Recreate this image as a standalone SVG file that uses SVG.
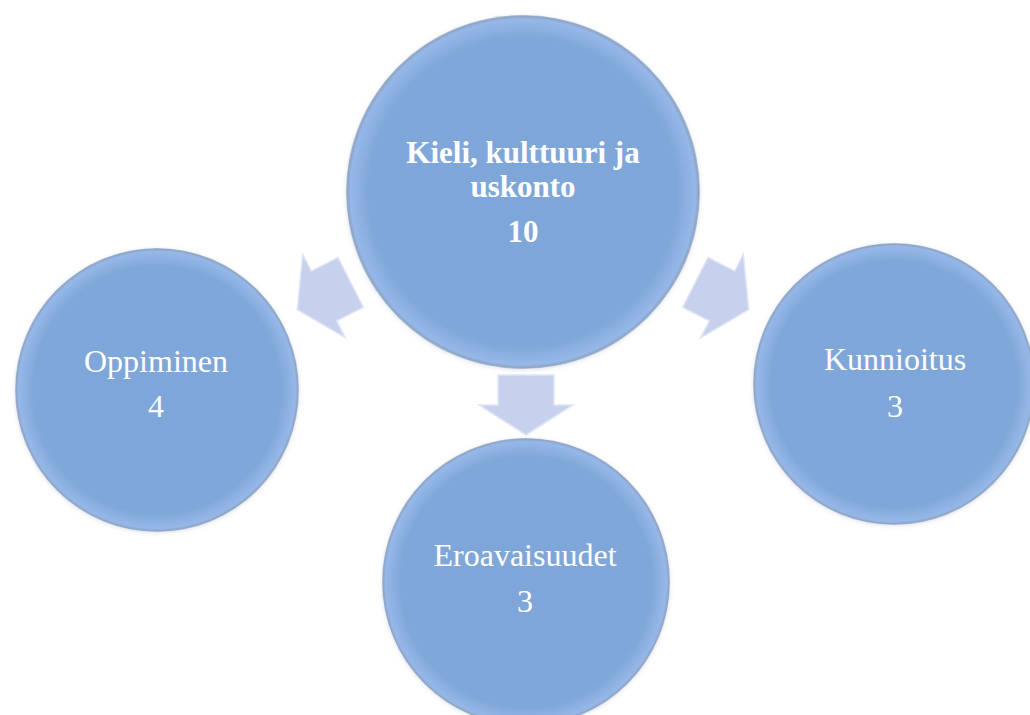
<svg xmlns="http://www.w3.org/2000/svg" width="1030" height="715" viewBox="0 0 1030 715">
  <defs>
    <radialGradient id="cg" cx="50%" cy="50%" r="50%">
      <stop offset="0%" stop-color="#7FA6D8"/>
      <stop offset="87%" stop-color="#80A7D9"/>
      <stop offset="94%" stop-color="#8EB2E4"/>
      <stop offset="97.5%" stop-color="#96B8E8"/>
      <stop offset="99.2%" stop-color="#8EA5C6"/>
      <stop offset="100%" stop-color="#B7C4D8"/>
    </radialGradient>
    <filter id="sh" x="-10%" y="-10%" width="120%" height="120%">
      <feGaussianBlur in="SourceAlpha" stdDeviation="2"/>
      <feOffset dx="0" dy="1" result="b"/>
      <feFlood flood-color="#7a8ca8" flood-opacity="0.25"/>
      <feComposite in2="b" operator="in"/>
      <feMerge><feMergeNode/><feMergeNode in="SourceGraphic"/></feMerge>
    </filter>
    <polygon id="arr" points="-30,-28 0,-28 0,-47 30,0 0,47 0,28 -30,28"/>
  </defs>
  <style>
    .node circle { fill: url(#cg); filter: url(#sh); }
    .t { font-family: "Liberation Serif", "Times New Roman", serif; font-size: 32px; fill: #ffffff; text-anchor: middle; }
    .b { font-weight: bold; font-size: 31px; }
    .arrow { fill: #C7D1ED; stroke: #E0E6F6; stroke-width: 1.5; stroke-linejoin: miter; }
  </style>
  <rect width="1030" height="715" fill="#ffffff"/>
  <g id="connectors">
    <use href="#arr" class="arrow" transform="translate(324,296) rotate(153)"/>
    <use href="#arr" class="arrow" transform="translate(722,296) rotate(27)"/>
    <use href="#arr" class="arrow" transform="translate(526,405) rotate(90)"/>
  </g>
  <g id="node-center" class="node">
    <circle cx="523" cy="192" r="177"/>
    <text class="t b" x="523" y="163">Kieli, kulttuuri ja</text>
    <text class="t b" x="523" y="197">uskonto</text>
    <text class="t b" x="523" y="242">10</text>
  </g>
  <g id="node-oppiminen" class="node">
    <circle cx="157" cy="390" r="142"/>
    <text class="t" x="156" y="372">Oppiminen</text>
    <text class="t" x="156" y="417">4</text>
  </g>
  <g id="node-kunnioitus" class="node">
    <circle cx="894" cy="384" r="141"/>
    <text class="t" x="895" y="370">Kunnioitus</text>
    <text class="t" x="895" y="417">3</text>
  </g>
  <g id="node-eroavaisuudet" class="node">
    <circle cx="526" cy="582" r="144"/>
    <text class="t" x="525" y="566">Eroavaisuudet</text>
    <text class="t" x="525" y="612">3</text>
  </g>
</svg>
